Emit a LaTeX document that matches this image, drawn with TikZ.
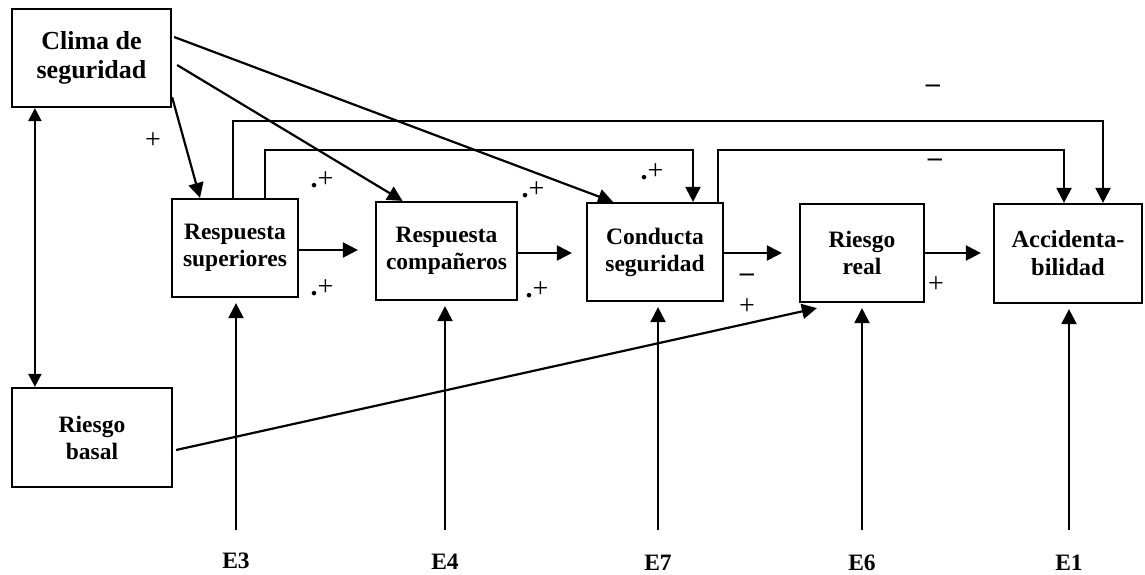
\documentclass[tikz,border=0pt]{standalone}
\usepackage{fontspec}
\setmainfont{Liberation Serif}
\usetikzlibrary{arrows.meta}
\begin{document}
\begin{tikzpicture}[x=1pt,y=-1pt,
  box/.style={draw,line width=2.2pt,rectangle,align=center,inner sep=0pt,
    font=\bfseries\fontsize{23.5}{27}\selectfont},
  lbl/.style={font=\bfseries\fontsize{23.5}{27}\selectfont,inner sep=0pt},
  sgn/.style={font=\fontsize{28}{30}\selectfont,inner sep=0pt},
  conn/.style={line width=2.2pt},
  arr/.style={line width=2.2pt,-{Triangle[length=15pt,width=15pt]}},
  darr/.style={line width=2.2pt,{Triangle[length=13pt,width=13pt]}-{Triangle[length=13pt,width=13pt]}}
]
\useasboundingbox (0,0) rectangle (1145,575);
\fill[white] (0,0) rectangle (1145,575);

% boxes
\node[box,minimum width=159pt,minimum height=98pt,font=\bfseries\fontsize{26}{29}\selectfont] (clima) at (91.5,58) {Clima de\\seguridad};
\node[box,minimum width=126pt,minimum height=98pt] (rsup) at (235,248) {Respuesta\\superiores};
\node[box,minimum width=141pt,minimum height=98pt] (rcomp) at (446.5,251) {Respuesta\\compañeros};
\node[box,minimum width=136pt,minimum height=98pt] (cond) at (655,252) {Conducta\\seguridad};
\node[box,minimum width=124pt,minimum height=98pt] (rreal) at (862,253) {Riesgo\\real};
\node[box,minimum width=148pt,minimum height=99pt,font=\bfseries\fontsize{24.5}{28}\selectfont] (acc) at (1068,253.5) {Accidenta-\\bilidad};
\node[box,minimum width=160pt,minimum height=99pt] (basal) at (92,437.5) {Riesgo\\basal};

% error labels
\node[lbl] (e3) at (236,561) {E3};
\node[lbl] (e4) at (445,562) {E4};
\node[lbl] (e7) at (658,563) {E7};
\node[lbl] (e6) at (862,563) {E6};
\node[lbl] (e1) at (1069,563) {E1};
\coordinate (bot) at (0,530);

% helper coordinates
\coordinate (t1) at (0,121);
\coordinate (t2) at (0,150);
\coordinate (s1) at ([xshift=-2pt]rsup.north);
\coordinate (s2) at ([xshift=30pt]rsup.north);
\coordinate (c1) at ([xshift=38pt]cond.north);
\coordinate (c2) at ([xshift=63pt]cond.north);
\coordinate (a1) at ([xshift=-4pt]acc.north);
\coordinate (a2) at ([xshift=35pt]acc.north);

% double arrow
\draw[darr] ([xshift=24pt]clima.south west) -- ([xshift=24pt]basal.north west);

% from clima
\draw[arr] ([yshift=11pt]clima.south east) -- ([xshift=-35pt]rsup.north);
\draw[arr] ([xshift=5pt,yshift=-7pt]clima.east) -- ([xshift=-44pt]rcomp.north);
\draw[arr] ([xshift=2pt,yshift=21pt]clima.east) -- ([xshift=-42pt]cond.north);

% feedback loops over the top
\draw[arr] (s1) |- (a2 |- t1) -- (a2);
\draw[arr] (s2) |- (c1 |- t2) -- (c1);
\draw[arr] (c2) |- (a1 |- t2) -- (a1);

% chain
\draw[arr,shorten >=17pt] ([yshift=-2pt]rsup.east) -- ([yshift=-2pt]rsup.east -| rcomp.west);
\draw[arr,shorten >=14pt] ([yshift=-2pt]rcomp.east) -- ([yshift=-2pt]rcomp.east -| cond.west);
\draw[arr,shorten >=17pt] ([yshift=-1pt]cond.east) -- ([yshift=-1pt]cond.east -| rreal.west);
\draw[arr,shorten >=12pt] (rreal.east) -- (rreal.east -| acc.west);

% basal risk to real risk
\draw[arr] ([xshift=3pt,yshift=-12.5pt]basal.east) -- ([xshift=18pt,yshift=-5pt]rreal.south west);

% error arrows
\draw[arr,shorten >=5pt] (e3 |- bot) -- (e3 |- rsup.south);
\draw[arr,shorten >=5pt] (e4 |- bot) -- (e4 |- rcomp.south);
\draw[arr,shorten >=5pt] (e7 |- bot) -- (e7 |- cond.south);
\draw[arr,shorten >=5pt] (e6 |- bot) -- (e6 |- rreal.south);
\draw[arr,shorten >=5pt] (e1 |- bot) -- (e1 |- acc.south);

% signs
\node[sgn] (p1) at (153,141) {+};
\node[sgn] (p2) at (322,180) {\textbf{.}+};
\node[sgn] (p3) at (322,288) {\textbf{.}+};
\node[sgn] (p4) at (533,190) {\textbf{.}+};
\node[sgn] (p5) at (537,290) {\textbf{.}+};
\node[sgn] (p6) at (652,172) {\textbf{.}+};
\node[sgn] (m1) at (747,278) {\textbf{–}};
\node[sgn] (p7) at (747,307) {+};
\node[sgn] (p8) at (936,285) {+};
\node[sgn] (m2) at (933,89) {\textbf{–}};
\node[sgn] (m3) at (935,163) {\textbf{–}};
\end{tikzpicture}
\end{document}
